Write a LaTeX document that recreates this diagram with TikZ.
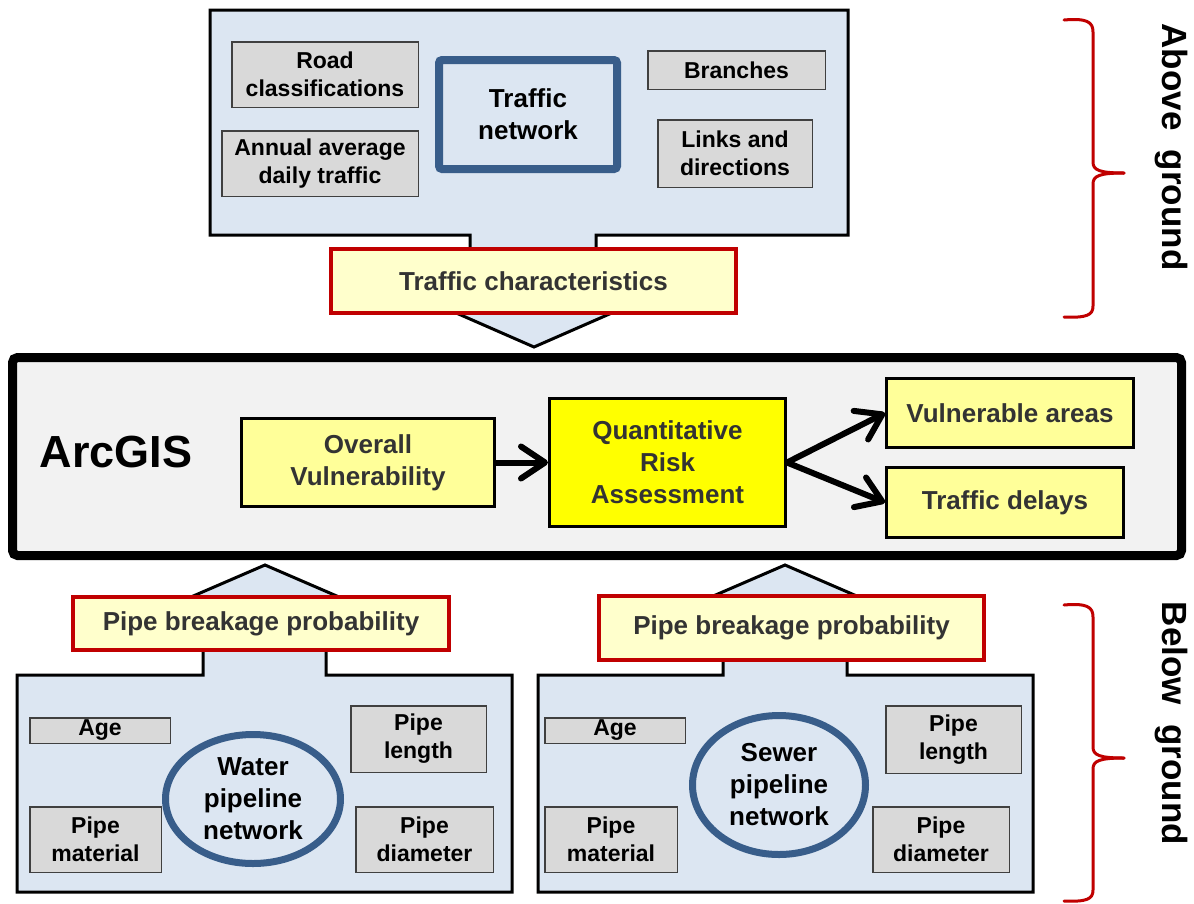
\documentclass[tikz,border=0pt]{standalone}
\usepackage{fontspec}
\setmainfont{Liberation Sans}
\usetikzlibrary{arrows.meta,shapes.geometric}
\definecolor{blk}{HTML}{DCE6F2}
\definecolor{gfill}{HTML}{D9D9D9}
\definecolor{gline}{HTML}{404040}
\definecolor{redb}{HTML}{C00000}
\definecolor{paley}{HTML}{FFFFCC}
\definecolor{midy}{HTML}{FFFF99}
\definecolor{yel}{HTML}{FFFF00}
\definecolor{netblue}{HTML}{385D8A}
\definecolor{arcfill}{HTML}{F2F2F2}
\definecolor{txt}{HTML}{333333}
\newcommand\bigfs{\fontsize{26}{32}\selectfont\bfseries}
\newcommand\smallfs{\fontsize{23}{28}\selectfont\bfseries}
\tikzset{
  gbox/.style={draw=gline, fill=gfill, line width=1.5pt, inner sep=0pt, align=center, font=\smallfs, text=black},
  redbox/.style={draw=redb, fill=paley, line width=4pt, inner sep=0pt, align=center, font=\bigfs, text=txt},
  ybox/.style={draw=black, fill=midy, line width=3pt, inner sep=0pt, align=center, font=\bigfs, text=txt},
  blockline/.style={draw=black, fill=blk, line width=3pt, line join=miter},
  netshape/.style={draw=netblue, line width=7pt, fill=blk, align=center, font=\bigfs, inner sep=0pt, text=black},
  bracestyle/.style={draw=redb, line width=3pt, line cap=round},
  sidetext/.style={font=\fontsize{35}{42}\selectfont\bfseries, rotate=-90, inner sep=0pt},
  flow/.style={line width=6pt, line cap=round, -{Straight Barb[length=24pt,width=32pt,line cap=round,line join=round]}}
}
\begin{document}
\begin{tikzpicture}[x=1pt,y=-1pt]
\useasboundingbox[fill=white] (0,0) rectangle (1194,903);

% ---- block outlines ----
\draw[blockline] (210,10) -- (848,10) -- (848,235) -- (596,235) -- (596,312) -- (614,312)
  -- (534,347) -- (454,312) -- (470,312) -- (470,235) -- (210,235) -- cycle;
\draw[blockline] (17,892) -- (512,892) -- (512,675) -- (326,675) -- (326,600) -- (346,600)
  -- (265,565) -- (184,600) -- (203,600) -- (203,675) -- (17,675) -- cycle;
\draw[blockline] (538,892) -- (1033,892) -- (1033,675) -- (847,675) -- (847,600) -- (866,600)
  -- (785,565) -- (704,600) -- (723,600) -- (723,675) -- (538,675) -- cycle;

% ---- top block contents ----
\node[gbox, minimum width=186.5pt, minimum height=65.5pt] (road) at (325,74.5) {Road\\classifications};
\node[gbox, minimum width=196.5pt, minimum height=65.5pt] (annual) at (320,163.5) {Annual average\\daily traffic};
\node[gbox, minimum width=177.5pt, minimum height=38.5pt] (branches) at (736.5,70) {Branches};
\node[gbox, minimum width=154.5pt, minimum height=67.5pt] (links) at (735,153.5) {Links and\\directions};
\node[draw=netblue, fill=blk, line width=8pt, rounded corners=3pt, inner sep=0pt, align=center,
      font=\bigfs, minimum width=178pt, minimum height=109pt] (tnet) at (528,114.5) {Traffic\\network};
\node[redbox, minimum width=405pt, minimum height=64pt] (tchar) at (533.5,281) {Traffic characteristics};

% ---- ArcGIS ----
\node[draw=black, fill=arcfill, line width=9pt, rounded corners=5pt, minimum width=1169pt,
      minimum height=198pt, inner sep=0pt] (arc) at (597,456.5) {};
\node[font=\fontsize{45}{50}\selectfont\bfseries, inner sep=0pt] (arclabel) at (116,452) {ArcGIS};
\node[ybox, minimum width=253pt, minimum height=88pt] (ov) at (368,462.5) {Overall\\Vulnerability};
\node[ybox, fill=yel, minimum width=236pt, minimum height=128pt] (qra) at (667.5,462.5) {Quantitative\\Risk\\Assessment};
\node[ybox, minimum width=247pt, minimum height=69pt] (va) at (1010,413) {Vulnerable areas};
\node[ybox, minimum width=237pt, minimum height=70pt] (td) at (1005,502.5) {Traffic delays};
\draw[flow] (ov.east) -- (qra.west);
\draw[flow] (qra.east) -- (va.west);
\draw[flow] (qra.east) -- (td.west);

% ---- bottom left ----
\node[redbox, minimum width=376pt, minimum height=53pt] (pbp1) at (261,623.5) {Pipe breakage probability};
\node[gbox, minimum width=140.5pt, minimum height=25.5pt] (age1) at (100,730.5) {Age};
\node[gbox, minimum width=135.5pt, minimum height=66.5pt] (plen1) at (418.5,739) {Pipe\\length};
\node[gbox, minimum width=131.5pt, minimum height=65.5pt] (pmat1) at (95.5,839.5) {Pipe\\material};
\node[gbox, minimum width=137.5pt, minimum height=65.5pt] (pdia1) at (424.5,839.5) {Pipe\\diameter};
\node[netshape, ellipse, minimum width=175pt, minimum height=129pt] (water) at (253,799) {Water\\pipeline\\network};

% ---- bottom right ----
\node[redbox, minimum width=385pt, minimum height=64pt] (pbp2) at (791.5,628) {Pipe breakage probability};
\node[gbox, minimum width=140.5pt, minimum height=25.5pt] (age2) at (615,730.5) {Age};
\node[gbox, minimum width=135.5pt, minimum height=67.5pt] (plen2) at (953.5,739.5) {Pipe\\length};
\node[gbox, minimum width=132.5pt, minimum height=65.5pt] (pmat2) at (611,839.5) {Pipe\\material};
\node[gbox, minimum width=136.5pt, minimum height=65.5pt] (pdia2) at (941,839.5) {Pipe\\diameter};
\node[netshape, ellipse, minimum width=173pt, minimum height=139pt] (sewer) at (779,785) {Sewer\\pipeline\\network};

% ---- braces ----
\draw[bracestyle] (1064,20) .. controls (1087,18) and (1093,22) .. (1093,32) -- (1093,162)
  .. controls (1093,170) and (1099,173) .. (1124,173);
\draw[bracestyle] (1124,173) .. controls (1099,173) and (1093,176) .. (1093,184) -- (1093,306)
  .. controls (1093,315) and (1087,318) .. (1064,317);
\draw[bracestyle] (1064,605) .. controls (1087,603) and (1093,607) .. (1093,617) -- (1093,747)
  .. controls (1093,755) and (1099,758) .. (1124,758);
\draw[bracestyle] (1124,758) .. controls (1099,758) and (1093,761) .. (1093,769) -- (1093,890)
  .. controls (1093,899) and (1087,902) .. (1064,901);
\node[sidetext] (above) at (1171,147) {Above\ \ ground};
\node[sidetext] (below) at (1171,723.5) {Below\ \ ground};
\end{tikzpicture}
\end{document}
